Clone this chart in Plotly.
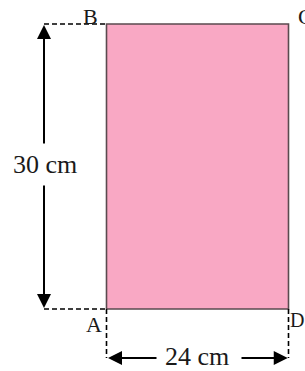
import plotly.graph_objects as go

# ---- data ----
width_cm = 24
height_cm = 30
dimension_labels = ["24 cm", "30 cm"]
corner_labels = ["A", "B", "C", "D"]

# ---- layout helpers (pixel geometry of the 305x371 canvas) ----
W, H = 305, 371
RX0, RX1 = 106.5, 288.5   # rectangle left/right in px
RY0, RY1 = 309.0, 24.0    # rectangle bottom/top in px
sx = (RX1 - RX0) / width_cm
sy = (RY0 - RY1) / height_cm
x_range = [-RX0 / sx, (W - RX0) / sx]
y_range = [-(H - RY0) / sy, height_cm + RY1 / sy]


def X(px):
    return (px - RX0) / sx


def Y(py):
    return (RY0 - py) / sy


fig = go.Figure()

# rectangle ABCD
fig.add_trace(go.Scatter(
    x=[0, width_cm, width_cm, 0, 0],
    y=[0, 0, height_cm, height_cm, 0],
    mode="lines", fill="toself", fillcolor="#F9A8C4",
    line=dict(color="#5a4a4f", width=1.6), hoverinfo="skip", showlegend=False))

dash = "5px,3px"
dl = dict(color="black", width=1.6, dash=dash)
xv = X(44)
yh = Y(358)
# horizontal extension lines (to vertical dimension)
for yy in (0, height_cm):
    fig.add_trace(go.Scatter(x=[xv, 0], y=[yy, yy], mode="lines", line=dl,
                             hoverinfo="skip", showlegend=False))
# vertical extension lines (to horizontal dimension)
for xx in (0, width_cm):
    fig.add_trace(go.Scatter(x=[xx, xx], y=[0, yh], mode="lines", line=dl,
                             hoverinfo="skip", showlegend=False))

arrow = dict(showarrow=True, arrowhead=2, arrowsize=1.4, arrowwidth=2,
             arrowcolor="black", axref="x", ayref="y", text="", standoff=0)
ann = []
# vertical dimension arrows
ann.append(dict(x=xv, y=height_cm - 0.1, ax=xv, ay=Y(145), **arrow))
ann.append(dict(x=xv, y=0.1, ax=xv, ay=Y(184), **arrow))
# horizontal dimension arrows
ann.append(dict(x=0.2, y=yh, ax=X(158), ay=yh, **arrow))
ann.append(dict(x=width_cm - 0.1, y=yh, ax=X(240), ay=yh, **arrow))

tf = dict(family="Liberation Serif", size=26, color="#1a1a1a")
ann.append(dict(x=X(44.5), y=Y(164), text=dimension_labels[1], showarrow=False,
                font=tf, xanchor="center", yanchor="middle"))
ann.append(dict(x=X(197), y=Y(356), text=dimension_labels[0], showarrow=False,
                font=tf, xanchor="center", yanchor="middle"))

lf = dict(family="Liberation Serif", size=22, color="#1a1a1a")
# (px, py, xanchor, font size)
label_pos = {"A": (94, 324, "center", 22), "B": (90, 16, "center", 22),
             "C": (296, 16, "left", 22), "D": (288, 320, "left", 20)}
for lab in corner_labels:
    px, py, xa, fs = label_pos[lab]
    ann.append(dict(x=X(px), y=Y(py), text=lab, showarrow=False,
                    font=dict(lf, size=fs), xanchor=xa, yanchor="middle"))

fig.update_layout(
    width=W, height=H, margin=dict(l=0, r=0, t=0, b=0),
    paper_bgcolor="white", plot_bgcolor="white",
    xaxis=dict(range=x_range, visible=False, fixedrange=True),
    yaxis=dict(range=y_range, visible=False, fixedrange=True),
    annotations=ann, showlegend=False)

fig.write_html("out.html", config={"displayModeBar": False},
               post_script="document.body.style.margin='0px';document.body.style.overflow='hidden';")
